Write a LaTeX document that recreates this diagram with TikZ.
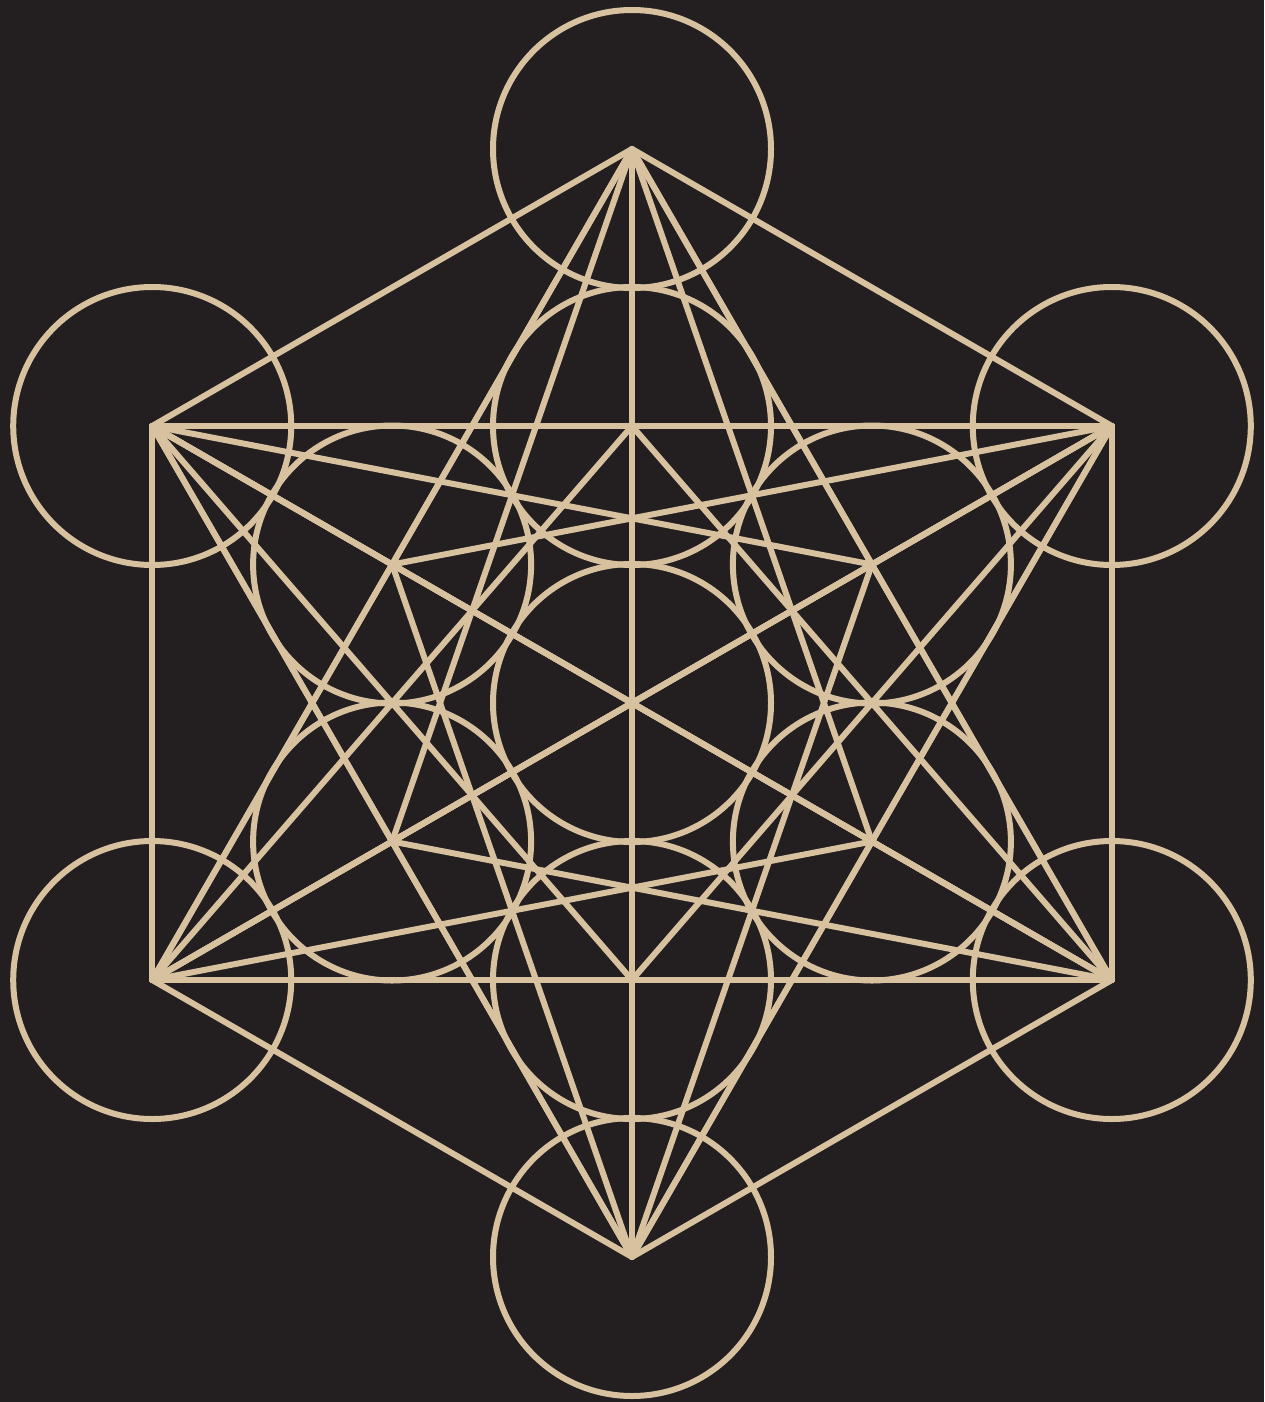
\documentclass[tikz,border=0pt]{standalone}
\usetikzlibrary{calc}
\definecolor{bgc}{HTML}{231F20}
\definecolor{gold}{HTML}{D8C19F}
\begin{document}
\begin{tikzpicture}[x=0.5pt,y=-0.5pt,
  ring/.style={circle,draw=gold,line width=3pt,minimum size=139pt,inner sep=0pt,outer sep=0pt},
  edge/.style={draw=gold,line width=3pt,line cap=round,line join=round}]
\useasboundingbox (0,0) rectangle (1264,1402);
\fill[bgc] (0,0) rectangle (1264,1402);
\coordinate (o) at (632,703);
\node[ring] (p0) at (o) {};
\foreach \k in {1,...,6}{
  \pgfmathsetmacro\ang{90+60*(\k-1)}
  \node[ring] (p\k) at ($(o)+(\ang:277)$) {};
}
\foreach \k in {7,...,12}{
  \pgfmathsetmacro\ang{90+60*(\k-7)}
  \node[ring] (p\k) at ($(o)+(\ang:554)$) {};
}
% outer points joined to each other
\foreach \i in {7,...,11}{
  \pgfmathtruncatemacro\n{\i+1}
  \foreach \j in {\n,...,12}{
    \draw[edge] (p\i.center) -- (p\j.center);
  }
}
% outer points joined to every inner point
\foreach \i in {7,...,12}{
  \foreach \j in {1,...,6}{
    \draw[edge] (p\i.center) -- (p\j.center);
  }
}
\end{tikzpicture}
\end{document}
